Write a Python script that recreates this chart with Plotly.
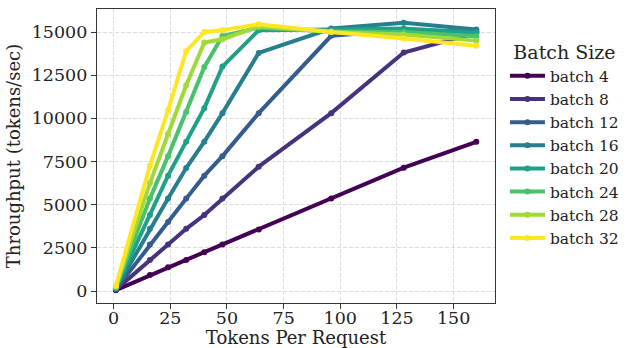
import plotly.graph_objects as go

tokens = [1, 16, 24, 32, 40, 48, 64, 96, 128, 160]
batch_names = ["batch 4", "batch 8", "batch 12", "batch 16", "batch 20", "batch 24", "batch 28", "batch 32"]
batch4 = [50, 920, 1380, 1800, 2250, 2700, 3560, 5350, 7140, 8640]
batch8 = [80, 1800, 2700, 3600, 4400, 5350, 7200, 10300, 13810, 14950]
batch12 = [110, 2700, 4000, 5350, 6680, 7810, 10300, 14780, 15100, 15050]
batch16 = [150, 3600, 5350, 7120, 8650, 10300, 13790, 15200, 15530, 15140]
batch20 = [180, 4400, 6680, 8650, 10590, 13000, 15100, 15150, 15200, 14950]
batch24 = [220, 5350, 7810, 10360, 12980, 14770, 15250, 15050, 15000, 14750]
batch28 = [260, 6250, 9090, 11920, 14390, 14580, 15320, 15000, 14850, 14500]
batch32 = [300, 7250, 10470, 13890, 15000, 15100, 15450, 15000, 14620, 14200]
series = [batch4, batch8, batch12, batch16, batch20, batch24, batch28, batch32]
colors = ["#440154", "#46327e", "#365c8d", "#277f8e", "#1fa187", "#4ac16d", "#a0da39", "#fde725"]
x_ticks = [0, 25, 50, 75, 100, 125, 150]
y_ticks = [0, 2500, 5000, 7500, 10000, 12500, 15000]

FONT = "DejaVu Serif"
fig = go.Figure()
for name, vals, c in zip(batch_names, series, colors):
    fig.add_trace(go.Scatter(x=tokens, y=vals, name=name, mode="lines+markers",
                             line=dict(color=c, width=4), marker=dict(color=c, size=6)))

fig.update_layout(
    width=633, height=348,
    margin=dict(l=97, r=130, t=9, b=45),
    plot_bgcolor="white", paper_bgcolor="white",
    font=dict(family=FONT, color="#222"),
    legend=dict(title=dict(text="Batch Size", font=dict(size=19, family=FONT), side="top center"),
                font=dict(size=15.5, family=FONT), x=1.025, y=0.913, xanchor="left", yanchor="top",
                itemwidth=35, bgcolor="rgba(0,0,0,0)"),
    showlegend=True,
)
axis_common = dict(showline=True, linecolor="#333", linewidth=1.2, mirror=True,
                   showgrid=True, gridcolor="#dddddd", griddash="4px,2px", gridwidth=1,
                   ticks="outside", ticklen=5, tickcolor="#333", zeroline=False,
                   automargin=False, tickfont=dict(size=17.5, family=FONT))
fig.update_xaxes(range=[-7.35, 168.25], tickvals=x_ticks, ticktext=[str(v) for v in x_ticks],
                 ticklabelstandoff=-6,
                 title=dict(text="Tokens Per Request", font=dict(size=18, family=FONT), standoff=6),
                 **axis_common)
fig.update_yaxes(range=[-695, 16332], tickvals=y_ticks, ticktext=[str(v) for v in y_ticks],
                 title=dict(text="Throughput (tokens/sec)", font=dict(size=18, family=FONT), standoff=6),
                 **axis_common)
fig.write_html("out.html", config={"displayModeBar": False},
               post_script="document.body.style.margin='0px';")
